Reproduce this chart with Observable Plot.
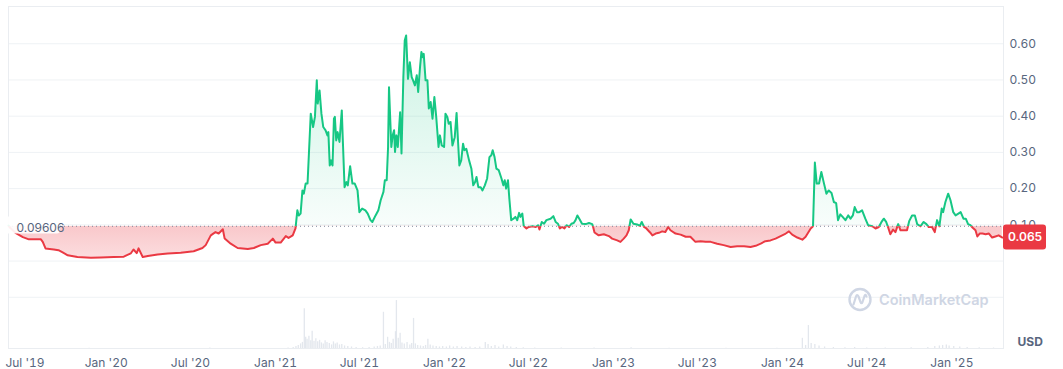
<!DOCTYPE html>
<html><head><meta charset="utf-8">
<script src="https://cdn.jsdelivr.net/npm/d3@7"></script>
<script src="https://cdn.jsdelivr.net/npm/@observablehq/plot@0.6"></script>
<style>
html,body{margin:0;padding:0;background:#fff;}
#chart{position:relative;width:1063px;height:369px;font-family:Inter,"Noto Sans",sans-serif;}
#chart svg{position:absolute;left:0;top:0;}
</style></head><body><div id="chart"></div>
<script>
// ---------- data ----------
const priceDates = [
"2019-06-04","2019-06-08","2019-06-20","2019-07-05","2019-07-18","2019-08-13","2019-08-17","2019-08-23","2019-09-10","2019-09-20",
"2019-09-29","2019-10-10","2019-10-31","2019-11-29","2019-12-20","2020-01-17","2020-02-08","2020-02-23","2020-02-29","2020-03-07",
"2020-03-11","2020-03-20","2020-03-31","2020-04-21","2020-05-13","2020-06-10","2020-07-08","2020-07-27","2020-08-03","2020-08-14",
"2020-08-24","2020-08-31","2020-09-09","2020-09-13","2020-09-26","2020-10-11","2020-11-02","2020-11-15","2020-11-30","2020-12-15",
"2020-12-26","2021-01-01","2021-01-12","2021-01-23","2021-01-29","2021-02-07","2021-02-13",
"2021-02-17","2021-02-20","2021-02-24","2021-02-28","2021-03-03","2021-03-07","2021-03-11","2021-03-14","2021-03-18","2021-03-23",
"2021-03-27","2021-03-31","2021-04-02","2021-04-06","2021-04-10","2021-04-14","2021-04-19","2021-04-23","2021-04-25","2021-04-28",
"2021-05-01","2021-05-04","2021-05-07","2021-05-09","2021-05-12","2021-05-15","2021-05-19","2021-05-24","2021-05-26","2021-05-30",
"2021-06-03","2021-06-06","2021-06-11","2021-06-16","2021-06-21","2021-06-27","2021-07-01","2021-07-07","2021-07-14","2021-07-19",
"2021-07-25","2021-07-29","2021-08-05","2021-08-11","2021-08-16","2021-08-22","2021-08-25","2021-08-29","2021-09-01","2021-09-03",
"2021-09-08","2021-09-11","2021-09-14","2021-09-16","2021-09-19","2021-09-22","2021-09-24","2021-09-27","2021-09-30","2021-10-04",
"2021-10-07","2021-10-10","2021-10-14","2021-10-18","2021-10-22","2021-10-25","2021-10-29","2021-11-02","2021-11-05","2021-11-09",
"2021-11-12","2021-11-15","2021-11-17","2021-11-21","2021-11-25","2021-11-28","2021-12-02","2021-12-06","2021-12-10","2021-12-14",
"2021-12-19","2021-12-22","2021-12-26","2021-12-31","2022-01-03","2022-01-07","2022-01-10","2022-01-14",
"2022-01-18","2022-01-23","2022-01-27","2022-01-30","2022-02-02","2022-02-06","2022-02-10","2022-02-13","2022-02-17","2022-02-23",
"2022-02-28","2022-03-04","2022-03-08","2022-03-11","2022-03-15","2022-03-20","2022-03-24","2022-03-29","2022-04-03","2022-04-08",
"2022-04-12","2022-04-15","2022-04-19","2022-04-23","2022-04-28","2022-05-04","2022-05-08","2022-05-11","2022-05-14","2022-05-18",
"2022-05-21","2022-05-25","2022-05-30","2022-06-03","2022-06-07","2022-06-11","2022-06-14","2022-06-18","2022-06-21","2022-06-27",
"2022-07-02","2022-07-10","2022-07-17","2022-07-22","2022-07-25","2022-07-30","2022-08-04","2022-08-09","2022-08-18","2022-08-24",
"2022-08-29","2022-09-03","2022-09-07","2022-09-12","2022-09-17","2022-09-22","2022-09-27","2022-10-02","2022-10-07","2022-10-11",
"2022-10-15","2022-10-20","2022-10-25","2022-11-02","2022-11-09","2022-11-16","2022-11-18","2022-11-21","2022-11-30","2022-12-11",
"2022-12-22","2022-12-29","2023-01-09","2023-01-16","2023-01-23","2023-01-29","2023-02-03","2023-02-07","2023-02-13","2023-02-21",
"2023-02-27","2023-03-03","2023-03-08","2023-03-13","2023-03-21","2023-03-26","2023-04-02","2023-04-09","2023-04-16","2023-04-23",
"2023-04-29","2023-05-04","2023-05-15","2023-05-26","2023-06-06","2023-06-16","2023-06-27","2023-07-08","2023-07-19","2023-07-30",
"2023-08-13","2023-08-27","2023-09-11","2023-09-25","2023-10-10","2023-10-24","2023-11-04","2023-11-15","2023-11-25","2023-12-06",
"2023-12-17","2023-12-28","2024-01-08","2024-01-15","2024-01-22","2024-02-02","2024-02-13","2024-02-20","2024-03-02","2024-03-07",
"2024-03-11","2024-03-15","2024-03-20","2024-03-25","2024-03-30","2024-04-05","2024-04-10","2024-04-16","2024-04-21","2024-04-26",
"2024-04-30","2024-05-05","2024-05-10","2024-05-16","2024-05-22","2024-05-27","2024-06-01","2024-06-05","2024-06-10","2024-06-15",
"2024-06-21","2024-06-28","2024-07-04","2024-07-13","2024-07-20","2024-07-27","2024-08-02","2024-08-07","2024-08-12","2024-08-16",
"2024-08-21","2024-08-27","2024-09-01","2024-09-07","2024-09-12","2024-09-19","2024-09-26","2024-10-01","2024-10-07","2024-10-13",
"2024-10-18","2024-10-25","2024-11-01","2024-11-07","2024-11-12","2024-11-19","2024-11-25","2024-11-30","2024-12-05","2024-12-10",
"2024-12-13","2024-12-18","2024-12-24","2024-12-29","2025-01-04","2025-01-09","2025-01-15","2025-01-20","2025-01-26","2025-01-31",
"2025-02-05","2025-02-10","2025-02-15","2025-02-21","2025-02-25","2025-03-02","2025-03-08","2025-03-15","2025-03-22","2025-03-29",
"2025-04-05","2025-04-12","2025-04-20"
];
const priceValues = [
0.098,0.091,0.077,0.066,0.060,0.060,0.053,0.035,0.032,0.030,
0.024,0.016,0.011,0.009,0.010,0.011,0.012,0.021,0.032,0.022,
0.035,0.011,0.014,0.018,0.021,0.023,0.027,0.036,0.044,0.071,
0.080,0.076,0.088,0.062,0.048,0.036,0.033,0.036,0.044,0.048,
0.062,0.051,0.051,0.069,0.064,0.071,0.090,
0.140,0.126,0.131,0.195,0.186,0.214,0.214,0.297,0.407,0.370,
0.398,0.499,0.435,0.471,0.407,0.370,0.361,0.347,0.356,0.264,
0.278,0.264,0.393,0.398,0.333,0.356,0.329,0.416,0.342,0.204,
0.218,0.209,0.262,0.214,0.214,0.195,0.135,0.145,0.140,0.131,
0.113,0.108,0.126,0.140,0.168,0.191,0.223,0.223,0.315,0.480,
0.315,0.347,0.361,0.301,0.347,0.315,0.352,0.411,0.297,0.508,
0.609,0.623,0.503,0.549,0.508,0.499,0.485,0.513,0.467,0.535,
0.577,0.563,0.572,0.499,0.499,0.421,0.439,0.393,0.453,0.398,
0.315,0.347,0.319,0.315,0.407,0.398,0.379,0.384,
0.319,0.342,0.409,0.333,0.264,0.278,0.324,0.306,0.310,0.278,
0.255,0.209,0.218,0.232,0.204,0.204,0.195,0.209,0.228,0.287,
0.292,0.306,0.287,0.255,0.251,0.228,0.209,0.223,0.200,0.223,
0.172,0.113,0.117,0.122,0.113,0.133,0.122,0.131,0.097,0.090,
0.094,0.096,0.094,0.099,0.087,0.108,0.103,0.113,0.117,0.124,
0.108,0.103,0.090,0.094,0.090,0.099,0.094,0.103,0.105,0.113,
0.126,0.115,0.103,0.102,0.105,0.102,0.094,0.079,0.071,0.074,
0.069,0.062,0.057,0.053,0.062,0.071,0.085,0.115,0.103,0.101,
0.097,0.108,0.094,0.090,0.079,0.071,0.076,0.078,0.082,0.080,
0.094,0.085,0.076,0.073,0.067,0.067,0.053,0.055,0.053,0.053,
0.048,0.044,0.039,0.041,0.041,0.039,0.042,0.048,0.055,0.057,
0.062,0.069,0.076,0.082,0.073,0.065,0.059,0.067,0.090,0.096,
0.272,0.214,0.214,0.246,0.218,0.186,0.195,0.188,0.163,0.160,
0.113,0.129,0.122,0.113,0.126,0.117,0.126,0.149,0.135,0.135,
0.140,0.117,0.099,0.096,0.090,0.094,0.108,0.117,0.108,0.094,
0.074,0.087,0.080,0.102,0.085,0.085,0.085,0.111,0.126,0.126,
0.102,0.096,0.108,0.102,0.094,0.094,0.080,0.113,0.096,0.145,
0.135,0.163,0.186,0.168,0.135,0.126,0.131,0.135,0.117,0.117,
0.102,0.099,0.092,0.085,0.068,0.076,0.076,0.074,0.076,0.065,
0.068,0.071,0.065
];
const volumeDates = [
"2019-11-25","2020-08-12","2021-01-28","2021-02-08","2021-02-14","2021-02-19","2021-02-24","2021-02-28","2021-03-04","2021-03-07",
"2021-03-10","2021-03-14","2021-03-18","2021-03-21","2021-03-25","2021-03-29","2021-04-02","2021-04-06","2021-04-10","2021-04-14",
"2021-04-18","2021-04-22","2021-04-27","2021-05-02","2021-05-06","2021-05-10","2021-05-14","2021-05-19","2021-05-24","2021-05-30",
"2021-06-06","2021-06-14","2021-06-24","2021-07-08","2021-07-22","2021-08-02","2021-08-09","2021-08-15","2021-08-22","2021-08-26",
"2021-08-31","2021-09-04","2021-09-08","2021-09-12","2021-09-17","2021-09-19","2021-09-23","2021-09-27","2021-10-01","2021-10-06",
"2021-10-12","2021-10-18","2021-10-22","2021-10-26","2021-10-30","2021-11-04","2021-11-10","2021-11-16","2021-11-21","2021-11-26",
"2021-12-01","2021-12-07","2021-12-14","2021-12-21","2021-12-28","2022-01-05","2022-01-12","2022-01-20","2022-01-28","2022-02-07",
"2022-02-16","2022-02-25","2022-03-08","2022-03-18","2022-03-30","2022-04-05","2022-04-12","2022-04-20","2022-04-28","2022-05-08",
"2022-05-16","2022-05-24","2022-06-05","2022-06-20","2022-07-15","2022-09-10","2022-11-20","2023-02-08","2023-05-01","2023-09-01",
"2023-12-20","2024-02-13","2024-02-20","2024-02-26","2024-03-03","2024-03-11","2024-03-20","2024-04-01","2024-04-20","2024-05-15",
"2024-06-05","2024-07-01","2024-08-10","2024-10-05","2024-11-10","2024-11-25","2024-12-05","2024-12-12","2024-12-20","2024-12-26",
"2025-01-05","2025-01-18","2025-02-03","2025-03-01","2025-04-01"
];
const volumeValues = [
0.6,0.8,1,2,4,6,9,12,78,22,
18,24,15,34,14,19,13,16,11,9,
15,12,10,7,13,9,11,7,8,5,
4,3,2,1.5,2,3,4,5,71,8,
22,12,10,18,33,94,20,30,11,9,
12,7,10,59,9,6,5,4,6,18,
7,5,4,3,4,3,5,3,4,3,
2,3,2,3,12,8,4,6,3,7,
4,3,2,1.5,1,0.8,0.8,1.5,0.5,0.5,
0.6,20,6,45,10,8,5,3,2,1.5,
2,1,1,1.5,2,4,5,6,7,5,
4,3,2,1.5,1
];
const BASELINE = 0.09606;
const LAST_PRICE = 0.065;
const yTickValues = [0.1, 0.2, 0.3, 0.4, 0.5, 0.6];
const yGridValues = [-0.1, 0, 0.1, 0.2, 0.3, 0.4, 0.5, 0.6];
const xTickDates = ["2019-07-01","2020-01-01","2020-07-01","2021-01-01","2021-07-01","2022-01-01","2022-07-01","2023-01-01","2023-07-01","2024-01-01","2024-07-01","2025-01-01"];
const xTickLabels = ["Jul '19","Jan '20","Jul '20","Jan '21","Jul '21","Jan '22","Jul '22","Jan '23","Jul '23","Jan '24","Jul '24","Jan '25"];
const unitLabel = "USD";
const watermark = "CoinMarketCap";

// ---------- build ----------
const priceData = priceDates.map((d, i) => ({date: new Date(d), price: priceValues[i]}));
const volData = volumeDates.map((d, i) => ({date: new Date(d), vol: volumeValues[i]}));
const tickDates = xTickDates.map(d => new Date(d));
const labelMap = new Map(tickDates.map((d, i) => [+d, xTickLabels[i]]));

const W = 1063, H = 369, mL = 8, mR = 60, mT = 6, mB = 21;
const xDomain = [new Date("2019-06-04T00:00Z"), new Date("2025-04-22T12:00Z")];
const yDomain = [-0.2414, 0.7028];
const GREEN = "#16c784", RED = "#ea3943", TXT = "#58667e", GRID = "#eff2f5";

const container = document.getElementById("chart");

const volPlot = Plot.plot({
  width: W, height: H, marginLeft: mL, marginRight: mR, marginTop: 297, marginBottom: mB,
  style: {background: "transparent"},
  x: {type: "utc", domain: xDomain, axis: null},
  y: {domain: [0, 100], axis: null},
  marks: [Plot.ruleX(volData, {x: "date", y1: 0, y2: "vol", stroke: "#e3e7ed", strokeWidth: 1.3})]
});
container.appendChild(volPlot);

const main = Plot.plot({
  width: W, height: H, marginLeft: mL, marginRight: mR, marginTop: mT, marginBottom: mB,
  style: {background: "transparent", fontFamily: "Inter, 'Noto Sans', sans-serif", fontSize: "12px", color: TXT},
  x: {type: "utc", domain: xDomain, ticks: tickDates, tickFormat: d => labelMap.get(+d) || "", tickSize: 0, tickPadding: 10, label: null},
  y: {domain: yDomain, axis: "right", ticks: yTickValues, tickFormat: d => d.toFixed(2), tickSize: 0, tickPadding: 6, label: null},
  marks: [
    Plot.ruleY(yGridValues, {stroke: GRID}),
    Plot.frame({stroke: "#eaedf1"}),
    Plot.areaY(priceData, {x: "date", y1: BASELINE, y2: "price", fill: "#00ff01", curve: "linear"}),
    Plot.areaY(priceData, {x: "date", y1: BASELINE, y2: "price", fill: "#ff0001", curve: "linear"}),
    Plot.ruleY([BASELINE], {stroke: "#7d879a", strokeDasharray: "1,3", strokeWidth: 1}),
    Plot.lineY(priceData, {x: "date", y: "price", stroke: "#16c785", strokeWidth: 2, strokeLinejoin: "round"}),
    Plot.lineY(priceData, {x: "date", y: "price", stroke: "#ea3944", strokeWidth: 2, strokeLinejoin: "round"}),
    Plot.text([BASELINE], {y: d => d, frameAnchor: "left", dx: 8, dy: 2, text: d => String(d), textAnchor: "start", fill: "#58667f", fontSize: 12}),
    Plot.text([LAST_PRICE], {y: d => d, frameAnchor: "right", dx: 21.5, text: d => d.toFixed(3), textAnchor: "middle", fill: "#fffffe", fontSize: 12, fontWeight: 600}),
    Plot.text([unitLabel], {frameAnchor: "bottom-right", dx: 14, dy: -3, text: d => d, textAnchor: "start", fill: TXT, fontSize: 12, fontWeight: 700})
  ]
});
container.appendChild(main);

// ---------- styling: gradients, clipping, label boxes ----------
const svg = d3.select(main);
const ys = main.scale("y");
const yb = ys.apply(BASELINE);
const defs = svg.insert("defs", ":first-child");
const gUp = defs.append("linearGradient").attr("id", "gUp").attr("gradientUnits", "userSpaceOnUse")
  .attr("x1", 0).attr("x2", 0).attr("y1", ys.apply(0.62)).attr("y2", yb);
gUp.append("stop").attr("offset", 0).attr("stop-color", GREEN).attr("stop-opacity", 0.22);
gUp.append("stop").attr("offset", 1).attr("stop-color", GREEN).attr("stop-opacity", 0.03);
const gDn = defs.append("linearGradient").attr("id", "gDn").attr("gradientUnits", "userSpaceOnUse")
  .attr("x1", 0).attr("x2", 0).attr("y1", yb).attr("y2", ys.apply(0.005));
gDn.append("stop").attr("offset", 0).attr("stop-color", RED).attr("stop-opacity", 0.28);
gDn.append("stop").attr("offset", 1).attr("stop-color", RED).attr("stop-opacity", 0.17);
defs.append("clipPath").attr("id", "cUp").append("rect").attr("x", 0).attr("y", 0).attr("width", W).attr("height", yb);
defs.append("clipPath").attr("id", "cDn").append("rect").attr("x", 0).attr("y", yb).attr("width", W).attr("height", H - yb);

function restyle(attr, marker, value, clip) {
  main.querySelectorAll(`[${attr}="${marker}"]`).forEach(el => {
    el.setAttribute(attr, value);
    const g = el.tagName.toLowerCase() === "g" ? el : el.parentNode;
    if (clip) g.setAttribute("clip-path", `url(#${clip})`);
  });
}
restyle("fill", "#00ff01", "url(#gUp)", "cUp");
restyle("fill", "#ff0001", "url(#gDn)", "cDn");
restyle("stroke", "#16c785", GREEN, "cUp");
restyle("stroke", "#ea3944", RED, "cDn");

// shift first x label slightly right as in the reference
main.querySelectorAll("text").forEach(t => {
  if (t.textContent === xTickLabels[0]) t.setAttribute("dx", "4");
});

// baseline label box
const baseG = main.querySelector('[fill="#58667f"]');
if (baseG) {
  baseG.setAttribute("fill", TXT);
  const bb = baseG.getBBox();
  const r = document.createElementNS("http://www.w3.org/2000/svg", "rect");
  r.setAttribute("x", bb.x - 4); r.setAttribute("y", bb.y - 1);
  r.setAttribute("width", bb.width + 8); r.setAttribute("height", bb.height + 2);
  r.setAttribute("rx", 3); r.setAttribute("fill", "#ffffff"); r.setAttribute("fill-opacity", 0.92);
  baseG.parentNode.insertBefore(r, baseG);
}
// last price badge
const lastG = main.querySelector('[fill="#fffffe"]');
if (lastG) {
  lastG.setAttribute("fill", "#ffffff");
  const yl = ys.apply(LAST_PRICE);
  const r = document.createElementNS("http://www.w3.org/2000/svg", "rect");
  r.setAttribute("x", W - mR); r.setAttribute("y", yl - 12.5);
  r.setAttribute("width", 43); r.setAttribute("height", 25);
  r.setAttribute("rx", 3); r.setAttribute("fill", RED);
  main.appendChild(r);
  main.appendChild(lastG);
}
// watermark
const wm = svg.append("g").attr("fill", "none").attr("stroke", "#cfd6e4");
const wx = W - mR - 143, wy = 299.5;
wm.append("circle").attr("cx", wx).attr("cy", wy).attr("r", 10.5).attr("stroke-width", 2.4);
wm.append("path").attr("stroke-width", 2.2).attr("stroke-linecap", "round").attr("stroke-linejoin", "round")
  .attr("d", `M${wx-6.5},${wy+5} L${wx-4},${wy-3} Q${wx-3},${wy-6} ${wx-1.5},${wy-3} L${wx+0.5},${wy+2.5} Q${wx+1.5},${wy+5} ${wx+2.5},${wy+2.5} L${wx+4.5},${wy-3.5} Q${wx+5.5},${wy-6} ${wx+6.5},${wy-3}`);
svg.append("text").attr("x", wx + 19).attr("y", wy).attr("dy", "0.35em")
  .attr("text-anchor", "start")
  .attr("fill", "#cfd6e4").attr("font-size", 14.5).attr("font-weight", 600)
  .attr("font-family", "Inter, 'Noto Sans', sans-serif").text(watermark);
</script>
</body></html>
